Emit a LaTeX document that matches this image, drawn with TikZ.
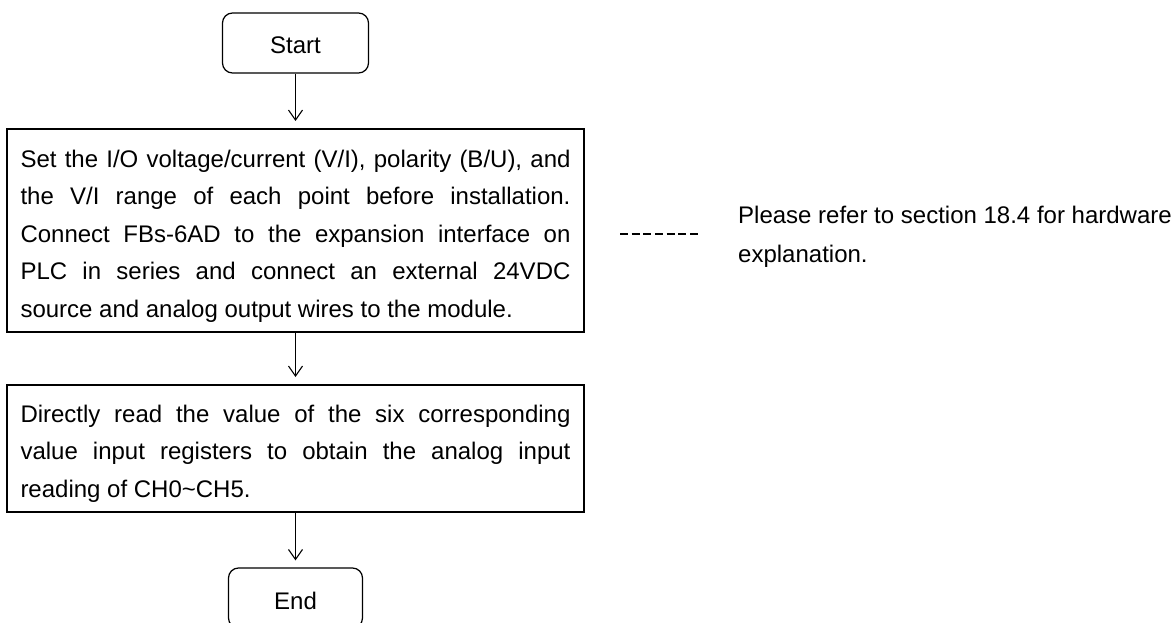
\documentclass[tikz,border=0pt]{standalone}
\usepackage{fontspec}
\setmainfont{Liberation Sans}
\usetikzlibrary{arrows.meta}
\hyphenpenalty=10000
\exhyphenpenalty=10000
\newcommand\mytopstrut{\rule{0pt}{28pt}}
\tikzset{
  termbox/.style={draw, line width=1.2pt, rounded corners=10pt, inner sep=0pt, text height=22pt, text depth=0pt, font=\fontsize{24pt}{28pt}\selectfont},
  procbox/.style={draw, line width=2pt, minimum width=577pt, inner xsep=13.5pt, inner ysep=0pt, text width=550pt, align=justify, font=\fontsize{24pt}{37.5pt}\selectfont},
  flowarrow/.style={line width=1.1pt, -{Straight Barb[length=10pt,width=14pt,line width=1.1pt]}, shorten >=7pt},
  notetext/.style={inner sep=0pt, align=left, font=\fontsize{24pt}{39pt}\selectfont},
  dashline/.style={line width=1.5pt, dash pattern=on 8pt off 3.67pt}
}
\begin{document}
\begin{tikzpicture}[x=1pt,y=-1pt]
\useasboundingbox (0,0) rectangle (1176,623);
\node[termbox, minimum width=146pt, minimum height=60pt] (start) at (295.5,43) {Start};
\node[procbox, minimum height=203pt] (b1) at (295.5,230.5) {\mytopstrut Set the I/O voltage/current (V/I), polarity (B/U), and\linebreak the V/I range of each point before installation.\linebreak Connect FBs-6AD to the expansion interface on\linebreak PLC in series and connect an external 24VDC\linebreak source and analog output wires to the module.};
\node[procbox, minimum height=126.5pt] (b2) at (295.5,448.25) {\mytopstrut Directly read the value of the six corresponding\linebreak value input registers to obtain the analog input\linebreak reading of CH0\textasciitilde CH5.};
\node[termbox, minimum width=134pt, minimum height=60pt] (end) at (295.5,598) {End};
\node[notetext, anchor=base west] (note) at (738,262) {Please refer to section 18.4 for hardware\\explanation.};
\coordinate (d1) at (620,234);
\coordinate (d2) at (698,234);
\draw[flowarrow] (start.south) -- (b1.north);
\draw[flowarrow] (b1.south) -- (b2.north);
\draw[flowarrow] (b2.south) -- (end.north);
\draw[dashline] (d1) -- (d2);
\end{tikzpicture}
\end{document}
